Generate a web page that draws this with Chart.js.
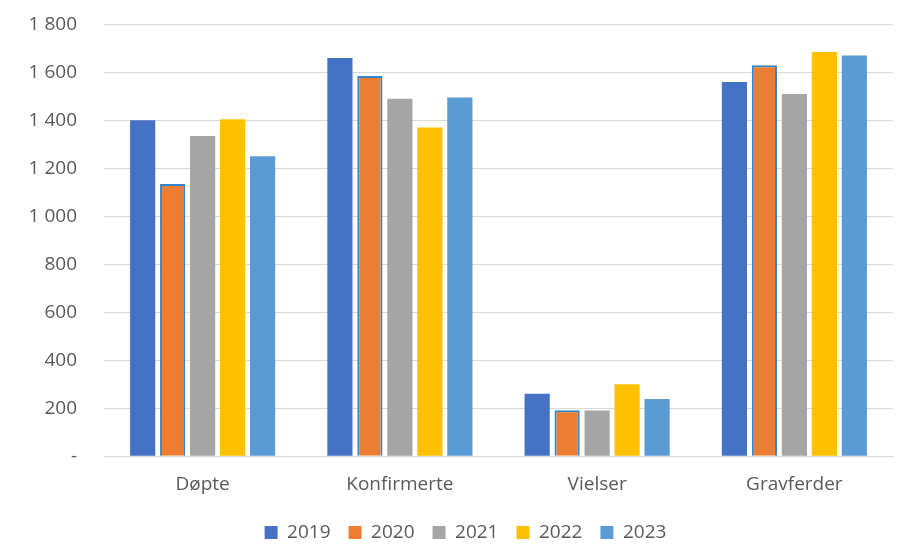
<!DOCTYPE html>
<html>
<head>
<meta charset="utf-8">
<script src="https://cdn.jsdelivr.net/npm/chart.js@4/dist/chart.umd.min.js"></script>
<style>
  html, body { margin: 0; padding: 0; background: #fff; }
  #wrap { width: 911px; height: 555px; }
</style>
</head>
<body>
<div id="wrap"><canvas id="myChart" width="911" height="555"></canvas></div>
<script>
// kategorier og tall per år
const kategorier = ['Døpte', 'Konfirmerte', 'Vielser', 'Gravferder'];
const aar = ['2019', '2020', '2021', '2022', '2023'];
const tall2019 = [1400, 1660, 260, 1560];
const tall2020 = [1135, 1585, 192, 1630];
const tall2021 = [1335, 1490, 190, 1510];
const tall2022 = [1405, 1370, 300, 1685];
const tall2023 = [1250, 1495, 238, 1670];
const yTicks = [0, 200, 400, 600, 800, 1000, 1200, 1400, 1600, 1800];

const farger = ['#4472C4', '#ED7D31', '#A5A5A5', '#FFC000', '#5B9BD5'];
const serier = [tall2019, tall2020, tall2021, tall2022, tall2023];

const datasets = serier.map((s, i) => ({
    label: aar[i],
    data: s,
    backgroundColor: farger[i],
    borderColor: i == 1 ? '#2E86D0' : farger[i],
    borderWidth: i == 1 ? 2 : 0,
    categoryPercentage: 0.76,
    barPercentage: 0.84
}));

function fmt(v) {
    if (v == 0) return '-';
    return v.toString().replace(/\B(?=(\d{3})+(?!\d))/g, ' ');
}

// flytter legenden litt mot høyre, som i originalen
const flyttLegende = {
    id: 'flyttLegende',
    afterUpdate: function(chart) {
        chart.legend.left += 14;
        chart.legend.right += 14;
    }
};

const ctx = document.getElementById('myChart');
new Chart(ctx, {
    type: 'bar',
    data: { labels: kategorier, datasets: datasets },
    plugins: [flyttLegende],
    options: {
        responsive: false,
        animation: false,
        layout: { padding: { left: 10, right: 18, top: 0, bottom: 3 } },
        plugins: {
            legend: {
                position: 'bottom',
                labels: {
                    font: { family: 'Open Sans', size: 19 },
                    color: '#595959',
                    boxWidth: 13,
                    boxHeight: 13,
                    padding: 18,
                    generateLabels: function(chart) {
                        return chart.data.datasets.map((d, i) => ({
                            text: d.label,
                            fillStyle: farger[i],
                            strokeStyle: farger[i],
                            lineWidth: 0,
                            fontColor: '#595959',
                            datasetIndex: i
                        }));
                    }
                }
            },
            tooltip: { enabled: false }
        },
        scales: {
            x: {
                grid: { display: false },
                border: { color: '#d9d9d9', width: 1 },
                ticks: { font: { family: 'Open Sans', size: 19 }, color: '#595959', padding: 9 }
            },
            y: {
                min: 0,
                max: 1800,
                afterBuildTicks: function(axis) {
                    axis.ticks = yTicks.map(v => ({ value: v }));
                },
                afterFit: function(axis) { axis.width = 94; },
                grid: { color: '#d9d9d9', lineWidth: 1, drawTicks: true, tickLength: 14, tickColor: 'rgba(0,0,0,0)' },
                border: { display: false },
                ticks: {
                    font: { family: 'Open Sans', size: 19 },
                    color: '#595959',
                    padding: 13,
                    callback: function(v) { return fmt(v); }
                }
            }
        }
    }
});
</script>
</body>
</html>
